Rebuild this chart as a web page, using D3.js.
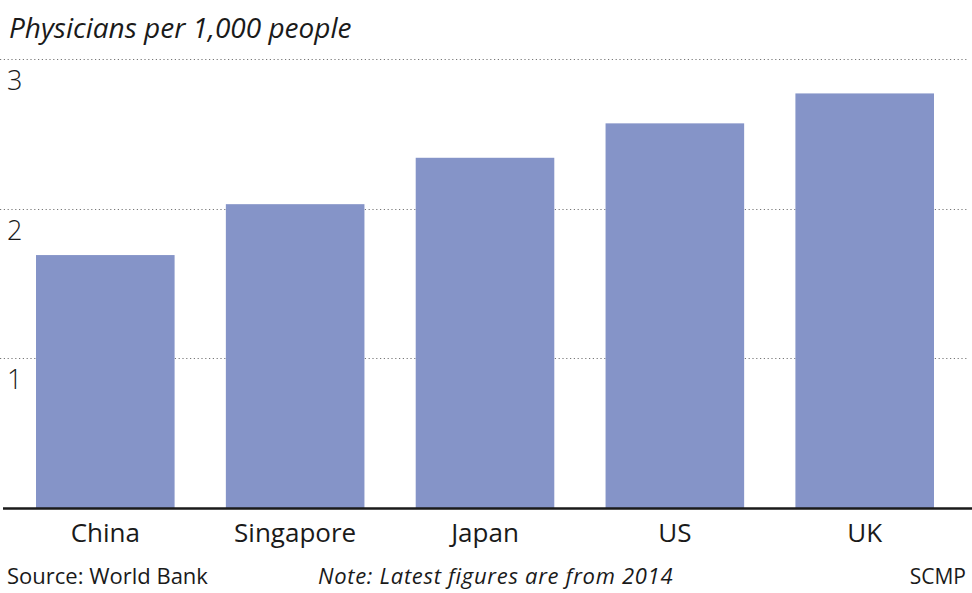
<!DOCTYPE html>
<html><head><meta charset="utf-8">
<script src="https://cdn.jsdelivr.net/npm/d3@7"></script>
<style>body{margin:0;background:#fff}svg{display:block}text{font-family:"Open Sans","Noto Sans",sans-serif;fill:#1a1a1a}</style>
</head><body>
<svg id="c" width="972" height="593"></svg>
<script>
const categories = ["China","Singapore","Japan","US","UK"];
const values = [1.69, 2.03, 2.34, 2.57, 2.77];
const yTicks = [1, 2, 3];
const title = "Physicians per 1,000 people";
const source = "Source: World Bank";
const note = "Note: Latest figures are from 2014";
const credit = "SCMP";

const svg = d3.select("#c");
const y = d3.scaleLinear().domain([0, 3]).range([508, 59]);
const x = d3.scaleBand().domain(categories).range([36, 934]).paddingInner(0.27).paddingOuter(0);

// gridlines
svg.append("g").selectAll("line").data(yTicks).join("line")
  .attr("x1", 0).attr("x2", 968)
  .attr("y1", d => Math.round(y(d)) + 0.5).attr("y2", d => Math.round(y(d)) + 0.5)
  .attr("stroke", "#777").attr("stroke-width", 1.2).attr("stroke-dasharray", "1.2,2.6");

// tick labels
svg.append("g").selectAll("text").data(yTicks).join("text")
  .attr("x", 7).attr("y", d => y(d) + 31)
  .attr("font-size", 27).attr("font-weight", 300)
  .text(d => d);

// bars
svg.append("g").selectAll("rect").data(categories).join("rect")
  .attr("x", d => x(d)).attr("width", x.bandwidth())
  .attr("y", (d, i) => y(values[i])).attr("height", (d, i) => y(0) - y(values[i]))
  .attr("fill", "#8594c8");

// baseline
svg.append("line").attr("x1", 3).attr("x2", 972).attr("y1", 508.5).attr("y2", 508.5)
  .attr("stroke", "#1a1a1a").attr("stroke-width", 2.5);

// category labels
svg.append("g").selectAll("text").data(categories).join("text")
  .attr("x", d => x(d) + x.bandwidth() / 2).attr("y", 542)
  .attr("text-anchor", "middle").attr("font-size", 26)
  .text(d => d);

// title
svg.append("text").attr("x", 9).attr("y", 38).attr("font-size", 28)
  .attr("font-style", "italic").text(title);

// footer
svg.append("text").attr("x", 7).attr("y", 584).attr("font-size", 22).attr("fill", "#333").text(source);
svg.append("text").attr("x", 318).attr("y", 584).attr("font-size", 22).attr("letter-spacing", 0.7).attr("font-style", "italic").text(note);
svg.append("text").attr("x", 966).attr("y", 584).attr("font-size", 21).attr("text-anchor", "end").text(credit);
</script>
</body></html>
